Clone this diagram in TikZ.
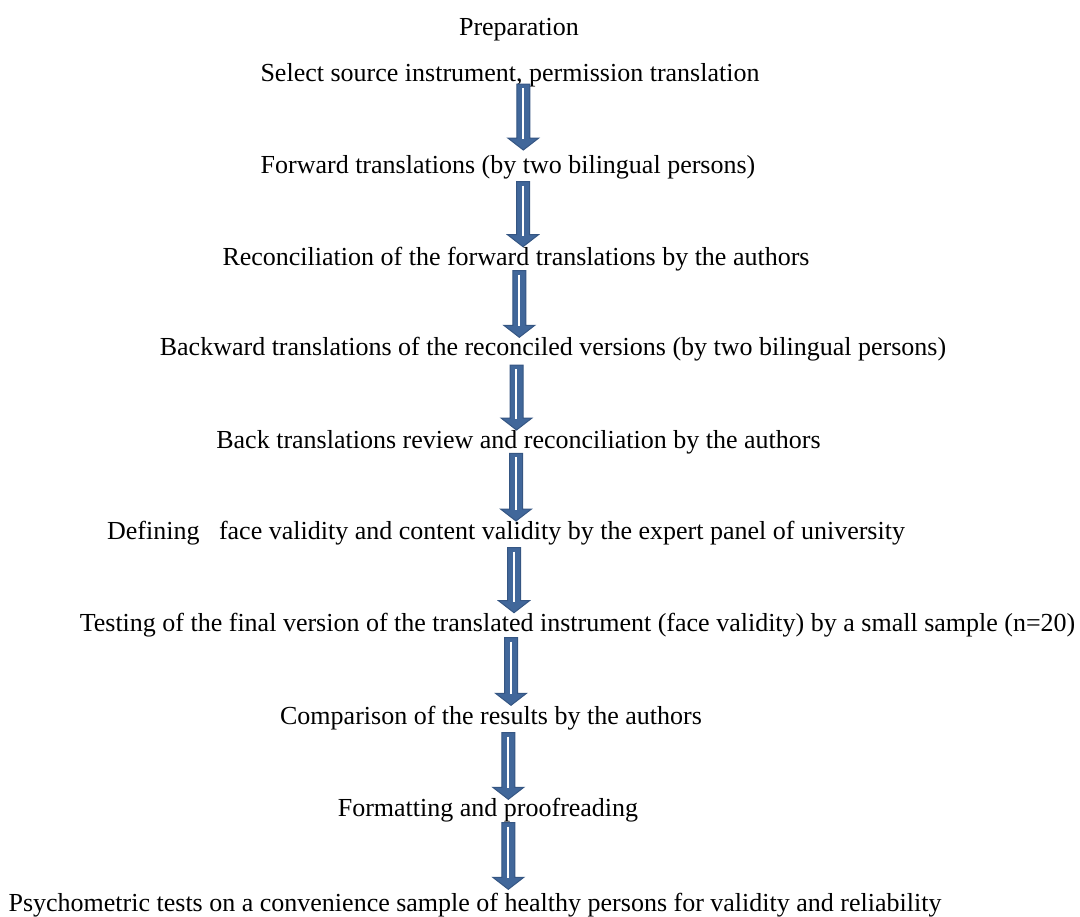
\documentclass[tikz,border=0pt]{standalone}
\usepackage{fontspec}
\setmainfont{Liberation Serif}

\definecolor{arrowfill}{HTML}{41679A}
\definecolor{arrowline}{HTML}{355683}

\begin{document}
\begin{tikzpicture}[x=0.5pt, y=-0.5pt,
  stage/.style={anchor=base, inner sep=0pt, font=\fontsize{13}{15}\selectfont},
  pics/steparrow/.style 2 args={code={
    \filldraw[fill=arrowfill, draw=arrowline, line width=0.5pt]
      (-6.5,#1) -- (-6.5,#2-12) -- (-15.5,#2-12) -- (0,#2) -- (15.5,#2-12) -- (6.5,#2-12) -- (6.5,#1) -- cycle;
    \draw[white, line width=1pt] (-0.5,#1+4) -- (-0.5,#2-11);
  }}]
\useasboundingbox (0,0) rectangle (1080,916);
\node[stage] (prep) at (519,35) {Preparation};
\node[stage] (select) at (510,81.7) {Select source instrument, permission translation};
\node[stage] (forward) at (508,173.3) {Forward translations (by two bilingual persons)};
\node[stage] (reconcile) at (516,265) {Reconciliation of the forward translations by the authors};
\node[stage] (backward) at (553,355) {Backward translations of the reconciled versions (by two bilingual persons)};
\node[stage] (review) at (518.5,448.3) {Back translations review and reconciliation by the authors};
\node[stage] (defining) at (506,539.3) {Defining\ \ \ face validity and content validity by the expert panel of university};
\node[stage] (testing) at (577.5,631) {Testing of the final version of the translated instrument (face validity) by a small sample (n=20)};
\node[stage] (comparison) at (491,724.3) {Comparison of the results by the authors};
\node[stage] (formatting) at (488,816) {Formatting and proofreading};
\node[stage] (psycho) at (475,911) {Psychometric tests on a convenience sample of healthy persons for validity and reliability};
% block arrows between the steps
\foreach \xa/\from/\ya/\yb in {523.3/select/2.3/68.3, 523/forward/8.4/73.4, 519.3/reconcile/5.7/72.3,
    516.5/backward/10/75, 516/review/5/72.7, 514/defining/8.4/73.4, 511/testing/6.7/74.3,
    508.3/comparison/8.4/75, 508.3/formatting/6.7/73.3}
  \pic at (\from.base -| \xa,0) {steparrow={\ya}{\yb}};
\end{tikzpicture}
\end{document}
